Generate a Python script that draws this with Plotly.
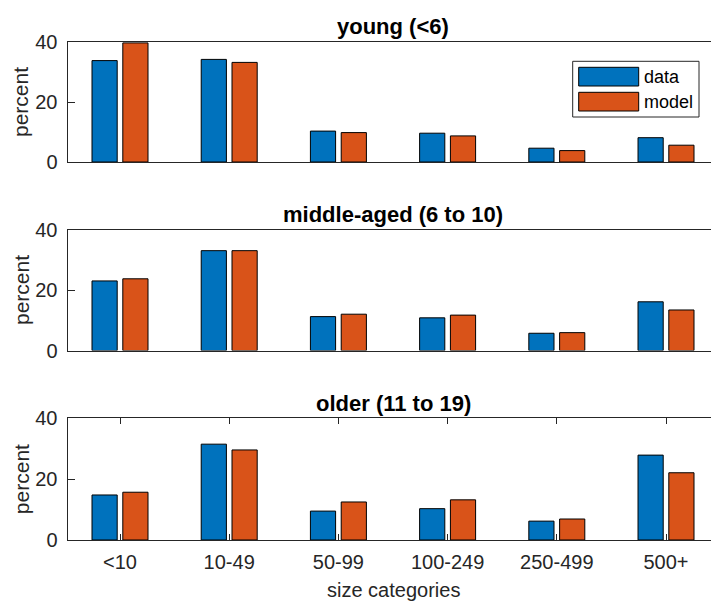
import plotly.graph_objects as go

W, H = 711, 601

categories = ["<10", "10-49", "50-99", "100-249", "250-499", "500+"]
panel_titles = ["young (<6)", "middle-aged (6 to 10)", "older (11 to 19)"]
series_names = ["data", "model"]

young_data = [33.8, 34.2, 10.3, 9.6, 4.6, 8.1]
young_model = [39.7, 33.2, 9.8, 8.7, 3.8, 5.6]
middle_data = [23.0, 33.0, 11.2, 10.8, 5.7, 16.1]
middle_model = [23.7, 33.0, 12.0, 11.7, 5.9, 13.4]
older_data = [14.8, 31.5, 9.5, 10.3, 6.2, 27.9]
older_model = [15.7, 29.6, 12.5, 13.2, 6.9, 22.1]

y_ticks = [0, 20, 40]

panels = [(young_data, young_model), (middle_data, middle_model), (older_data, older_model)]

BLUE = "#0072BD"
ORANGE = "#D95319"
AX = "#262626"
FONT = "Liberation Sans, Arial, Helvetica, sans-serif"

def px_x(x):
    return x / W

def px_y(y):
    return 1 - y / H

# axes pixel boxes (top, bottom)
boxes = [(42, 162), (229.5, 350.5), (418.3, 540)]
x_left = 67.5

fig = go.Figure()
for i, (d, m) in enumerate(panels):
    ax = "" if i == 0 else str(i + 1)
    for vals, name, col in [(d, series_names[0], BLUE), (m, series_names[1], ORANGE)]:
        fig.add_trace(go.Bar(
            x=categories, y=vals, name=name, showlegend=False,
            marker=dict(color=col, line=dict(color="black", width=1)),
            xaxis="x" + ax, yaxis="y" + ax,
        ))

layout = dict(
    width=W, height=H,
    margin=dict(l=0, r=0, t=0, b=0, autoexpand=False),
    paper_bgcolor="white", plot_bgcolor="white",
    barmode="group", bargap=0.436, bargroupgap=0.182,
    font=dict(family=FONT, size=20, color=AX),
    showlegend=False,
)

x_range = [-0.4808, 5.412]
annotations = []
shapes = []
for i in range(3):
    ax = "" if i == 0 else str(i + 1)
    top, bot = boxes[i]
    last = i == 2
    layout["xaxis" + ax] = dict(
        domain=[px_x(x_left), 1],
        anchor="y" + ax,
        type="category",
        range=x_range,
        automargin=False,
        showline=True, linecolor=AX, linewidth=1,
        mirror="ticks" if last else True,
        ticks="inside" if last else "",
        ticklen=6, tickcolor=AX, tickwidth=1,
        showticklabels=last,
        tickfont=dict(size=20, color=AX),
        ticklabelstandoff=4,
        showgrid=False, zeroline=False,
    )
    layout["yaxis" + ax] = dict(
        domain=[px_y(bot), px_y(top)],
        anchor="x" + ax,
        range=[0, 40],
        automargin=False,
        tickvals=y_ticks,
        ticks="inside", ticklen=7, tickcolor=AX, tickwidth=1,
        showline=True, linecolor=AX, linewidth=1, mirror=False,
        showgrid=False, zeroline=False,
        tickfont=dict(size=20, color=AX),
        ticklabelstandoff=5,
    )
    annotations.append(dict(
        text="<b>" + panel_titles[i] + "</b>", xref="paper", yref="paper",
        x=px_x(393), y=px_y(top - 0.5), xanchor="center", yanchor="bottom",
        showarrow=False, font=dict(size=22, color="black", family=FONT),
    ))
    annotations.append(dict(
        text="percent", xref="paper", yref="paper", textangle=-90,
        x=px_x(21), y=px_y((top + bot) / 2), xanchor="center", yanchor="middle",
        showarrow=False, font=dict(size=21, color=AX, family=FONT),
    ))

annotations.append(dict(
    text="size categories", xref="paper", yref="paper",
    x=px_x(393), y=px_y(590), xanchor="center", yanchor="middle",
    showarrow=False, font=dict(size=20, color=AX, family=FONT),
))

# legend drawn in the top panel
shapes.append(dict(type="rect", xref="paper", yref="paper",
                   x0=px_x(572.7), x1=px_x(699), y0=px_y(117), y1=px_y(61.3),
                   line=dict(color=AX, width=1), fillcolor="white", layer="above"))
for j, (name, col, yt, yb) in enumerate([(series_names[0], BLUE, 67.3, 86), (series_names[1], ORANGE, 92.3, 111)]):
    shapes.append(dict(type="rect", xref="paper", yref="paper",
                       x0=px_x(578.7), x1=px_x(638.7), y0=px_y(yb), y1=px_y(yt),
                       line=dict(color="black", width=1), fillcolor=col, layer="above"))
    annotations.append(dict(
        text=name, xref="paper", yref="paper",
        x=px_x(642), y=px_y((yt + yb) / 2), xanchor="left", yanchor="middle",
        showarrow=False, font=dict(size=18, color="black", family=FONT),
    ))

layout["annotations"] = annotations
layout["shapes"] = shapes
fig.update_layout(**layout)
fig.write_html("out.html")
